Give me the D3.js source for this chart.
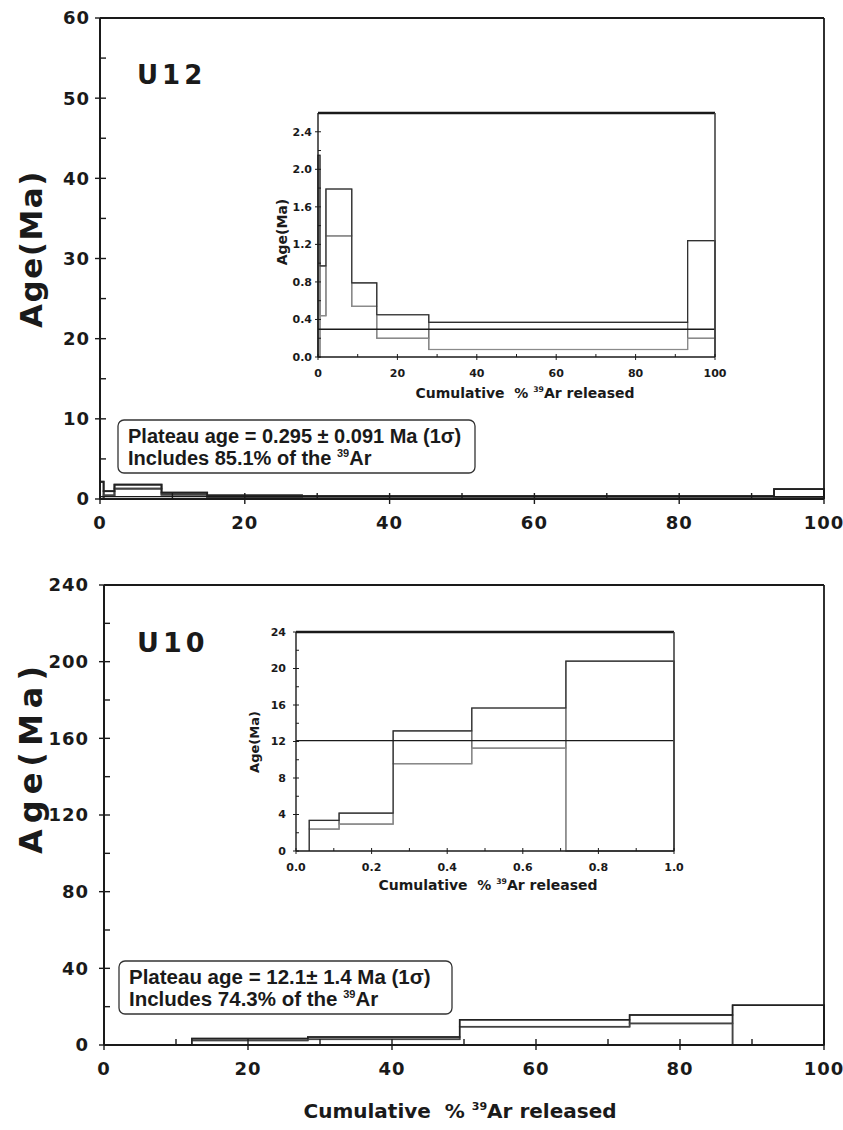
<!DOCTYPE html>
<html>
<head>
<meta charset="utf-8">
<script src="https://cdn.jsdelivr.net/npm/d3@7"></script>
<style>
  body { margin: 0; background: #fff; }
  svg text { font-family: "DejaVu Sans", sans-serif; font-weight: bold; fill: #1a1a1a; }
  svg text.box { font-family: "Liberation Sans", Arial, sans-serif; }
</style>
</head>
<body>
<svg id="fig" width="843" height="1130"></svg>
<script>
// ---- U12 step-heating age spectrum (cumulative % 39Ar, age in Ma) ----
const u12Cum   = [0, 0.5, 2.0, 8.5, 14.8, 27.9, 93.1, 100];
const u12High  = [2.15, 0.97, 1.79, 0.79, 0.45, 0.37, 1.24];
const u12Low   = [0.00, 0.44, 1.29, 0.54, 0.20, 0.08, 0.20];
const u12Plateau = 0.295;

// ---- U10 step-heating age spectrum ----
const u10Cum      = [12.2, 28.3, 49.4, 73.0, 87.3, 100];
const u10CumInset = [0.035, 0.114, 0.257, 0.465, 0.714, 1.0];
const u10High  = [3.35, 4.15, 13.16, 15.67, 20.8];
const u10Low   = [2.40, 2.95, 9.56, 11.27, 0];
const u10Plateau = 12.1;

// ---- tick values ----
const mainXTicks   = [0, 20, 40, 60, 80, 100];
const mainXMinor   = [10, 30, 50, 70, 90];
const u12YTicks    = [0, 10, 20, 30, 40, 50, 60];
const u12YMinor    = [5, 15, 25, 35, 45, 55];
const u10YTicks    = [0, 40, 80, 120, 160, 200, 240];
const u10YMinor    = [20, 60, 100, 140, 180, 220];
const u12InsetYTicks = [0, 0.4, 0.8, 1.2, 1.6, 2.0, 2.4];
const u12InsetYMinor = [0.2, 0.6, 1.0, 1.4, 1.8, 2.2];
const u10InsetYTicks = [0, 4, 8, 12, 16, 20, 24];
const u10InsetYMinor = [2, 6, 10, 14, 18, 22];
const u10InsetXTicks = [0, 0.2, 0.4, 0.6, 0.8, 1.0];
const u10InsetXMinor = [0.1, 0.3, 0.5, 0.7, 0.9];

const svg = d3.select("#fig");

function supText(sel, parts) {
  parts.forEach(p => {
    const t = sel.append("tspan").text(p.t);
    if (p.size) t.attr("font-size", p.size);
    if (p.weight) t.attr("font-weight", p.weight);
    if (p.dy) t.attr("dy", p.dy);
    if (p.x != null) t.attr("x", p.x);
  });
}

function titleX(g, x, y, size, spacing) {
  const t = g.append("text").attr("x", x).attr("y", y).attr("text-anchor", "middle")
    .attr("font-size", size).attr("letter-spacing", spacing);
  supText(t, [
    {t: "Cumulative\u00a0\u00a0%\u00a0"},
    {t: "39", size: size * 0.55, dy: -size * 0.4},
    {t: "Ar released", dy: size * 0.4}
  ]);
}

function drawPanel(o) {
  const g = svg.append("g");
  const x = d3.scaleLinear().domain(o.xDomain).range([o.left, o.right]);
  const y = d3.scaleLinear().domain(o.yDomain).range([o.bottom, o.top]);

  if (o.inset) {
    g.append("rect").attr("x", o.left).attr("y", o.top)
      .attr("width", o.right - o.left).attr("height", o.bottom - o.top).attr("fill", "#fff");
  }

  // spectrum steps: a box per heating step plus the upper and lower envelopes
  const steps = o.high.map((h, i) => ({x0: o.cum[i], x1: o.cum[i + 1], hi: h, lo: o.low[i]}));
  const sw = o.stepWidth;
  g.selectAll("rect.step").data(steps).join("rect").attr("class", "step")
    .attr("x", d => x(d.x0)).attr("width", d => x(d.x1) - x(d.x0))
    .attr("y", d => y(d.hi)).attr("height", d => y(d.lo) - y(d.hi))
    .attr("fill", "none").attr("stroke", o.inset ? "#707070" : "#333").attr("stroke-width", sw);

  const line = d3.line().x(d => x(d[0])).y(d => y(d[1]));
  const envelope = key => [[o.cum[0], 0]]
    .concat(steps.flatMap(d => [[d.x0, d[key]], [d.x1, d[key]]]))
    .concat([[o.cum[o.cum.length - 1], 0]]);
  g.append("path").attr("d", line(envelope("lo"))).attr("fill", "none")
    .attr("stroke", o.inset ? "#8a8a8a" : "#444").attr("stroke-width", sw);
  g.append("path").attr("d", line(envelope("hi"))).attr("fill", "none")
    .attr("stroke", o.inset ? "#303030" : "#222").attr("stroke-width", sw);

  if (o.plateau != null) {
    g.append("line").attr("x1", o.left).attr("x2", o.right)
      .attr("y1", y(o.plateau)).attr("y2", y(o.plateau))
      .attr("stroke", "#1a1a1a").attr("stroke-width", 1.4);
  }

  // frame
  const fw = o.inset ? 1.4 : 2;
  g.append("line").attr("x1", o.left).attr("x2", o.right).attr("y1", o.top).attr("y2", o.top)
    .attr("stroke", "#1a1a1a").attr("stroke-width", o.inset ? 2.4 : 1.8);
  g.append("line").attr("x1", o.right).attr("x2", o.right).attr("y1", o.top).attr("y2", o.bottom)
    .attr("stroke", o.inset ? "#444" : "#1a1a1a").attr("stroke-width", o.inset ? 1.6 : 1.8);
  g.append("line").attr("x1", o.left).attr("x2", o.left).attr("y1", o.top).attr("y2", o.bottom)
    .attr("stroke", "#1a1a1a").attr("stroke-width", fw);
  g.append("line").attr("x1", o.left).attr("x2", o.right).attr("y1", o.bottom).attr("y2", o.bottom)
    .attr("stroke", "#1a1a1a").attr("stroke-width", fw);

  // ticks: majors cross the axis, minors point inward
  const tOut = o.inset ? 3 : 5, tIn = o.inset ? 3 : 6, tw = o.inset ? 1 : 1.4;
  g.selectAll("line.yt").data(o.yTicks).join("line").attr("class", "yt")
    .attr("x1", o.left - tOut).attr("x2", o.left + tIn).attr("y1", d => y(d)).attr("y2", d => y(d))
    .attr("stroke", "#1a1a1a").attr("stroke-width", tw);
  g.selectAll("line.ym").data(o.yMinor).join("line").attr("class", "ym")
    .attr("x1", o.left).attr("x2", o.left + tIn).attr("y1", d => y(d)).attr("y2", d => y(d))
    .attr("stroke", "#1a1a1a").attr("stroke-width", tw);
  g.selectAll("line.xt").data(o.xTicks).join("line").attr("class", "xt")
    .attr("y1", o.bottom + tOut).attr("y2", o.bottom - tIn).attr("x1", d => x(d)).attr("x2", d => x(d))
    .attr("stroke", "#1a1a1a").attr("stroke-width", tw);
  g.selectAll("line.xm").data(o.xMinor).join("line").attr("class", "xm")
    .attr("y1", o.bottom).attr("y2", o.bottom - tIn).attr("x1", d => x(d)).attr("x2", d => x(d))
    .attr("stroke", "#1a1a1a").attr("stroke-width", tw);

  // tick labels
  g.selectAll("text.yl").data(o.yTicks).join("text").attr("class", "yl")
    .attr("x", o.left - o.yLabelGap).attr("y", d => y(d)).attr("dy", "0.36em")
    .attr("text-anchor", "end").attr("font-size", o.tickSize).attr("letter-spacing", o.tickSpacing || 0)
    .text(o.yFormat);
  g.selectAll("text.xl").data(o.xTicks).join("text").attr("class", "xl")
    .attr("x", d => x(d)).attr("y", o.bottom + o.xLabelGap)
    .attr("text-anchor", "middle").attr("font-size", o.tickSize).attr("letter-spacing", o.tickSpacing || 0)
    .text(o.xFormat);

  // axis titles
  if (o.yTitle) {
    g.append("text").attr("transform", `translate(${o.yTitle.x},${o.yTitle.y}) rotate(-90)`)
      .attr("text-anchor", "middle").attr("font-size", o.yTitle.size)
      .attr("letter-spacing", o.yTitle.spacing || 0).text("Age(Ma)");
  }
  if (o.xTitle) titleX(g, o.xTitle.x, o.xTitle.y, o.xTitle.size, o.xTitle.spacing);
  return {x, y};
}

// rounded plateau box with the plateau age and the 39Ar fraction
function plateauBox(x0, y0, w, h, size, line1, line2) {
  const g = svg.append("g");
  g.append("rect").attr("x", x0).attr("y", y0).attr("width", w).attr("height", h)
    .attr("rx", 6).attr("ry", 6).attr("fill", "#fff").attr("stroke", "#333").attr("stroke-width", 1.3);
  const t = g.append("text").attr("class", "box").attr("x", x0 + 10).attr("y", y0 + 22.5)
    .attr("font-size", size);
  t.append("tspan").text(line1);
  supText(t, [{...line2[0], x: x0 + 10, dy: size * 1.12}].concat(line2.slice(1)));
}

const numFmt = d => d3.format("d")(d);
const oneDec = d => d3.format(".1f")(d);

// ---------- U12 main ----------
drawPanel({
  left: 100, right: 824, top: 18, bottom: 499,
  xDomain: [0, 100], yDomain: [0, 60],
  cum: u12Cum, high: u12High, low: u12Low, plateau: u12Plateau, stepWidth: 1.8,
  xTicks: mainXTicks, xMinor: mainXMinor, yTicks: u12YTicks, yMinor: u12YMinor,
  tickSize: 18, tickSpacing: 1, yLabelGap: 10, xLabelGap: 30,
  yFormat: numFmt, xFormat: numFmt,
  yTitle: {x: 42, y: 249, size: 31, spacing: 1.5}
});
svg.append("text").attr("x", 137).attr("y", 84).attr("font-size", 26)
  .attr("letter-spacing", 4).text("U12");
plateauBox(118, 420, 357, 53, 20,
  "Plateau age = 0.295 \u00b1 0.091 Ma (1\u03c3)",
  [{t: "Includes 85.1% of the "}, {t: "39", size: 11, dy: -8}, {t: "Ar", dy: 8}]);

// ---------- U12 inset ----------
drawPanel({
  inset: true,
  left: 318, right: 715, top: 113, bottom: 357,
  xDomain: [0, 100], yDomain: [0, 2.6],
  cum: u12Cum, high: u12High, low: u12Low, plateau: u12Plateau, stepWidth: 1.2,
  xTicks: mainXTicks, xMinor: mainXMinor, yTicks: u12InsetYTicks, yMinor: u12InsetYMinor,
  tickSize: 11, yLabelGap: 6, xLabelGap: 20,
  yFormat: oneDec, xFormat: numFmt,
  yTitle: {x: 287, y: 232, size: 14},
  xTitle: {x: 525, y: 398, size: 14, spacing: 0}
});

// ---------- U10 main ----------
drawPanel({
  left: 104, right: 824, top: 585, bottom: 1045,
  xDomain: [0, 100], yDomain: [0, 240],
  cum: u10Cum, high: u10High, low: u10Low, plateau: null, stepWidth: 1.5,
  xTicks: mainXTicks, xMinor: mainXMinor, yTicks: u10YTicks, yMinor: u10YMinor,
  tickSize: 18, tickSpacing: 1, yLabelGap: 15, xLabelGap: 30,
  yFormat: numFmt, xFormat: numFmt,
  yTitle: {x: 42, y: 757, size: 32, spacing: 6},
  xTitle: {x: 460, y: 1118, size: 20, spacing: 0}
});
svg.append("text").attr("x", 137).attr("y", 652).attr("font-size", 27)
  .attr("letter-spacing", 4).text("U10");
plateauBox(119, 961, 333, 53, 20.5,
  "Plateau age = 12.1\u00b1 1.4 Ma (1\u03c3)",
  [{t: "Includes 74.3% of the "}, {t: "39", size: 11, dy: -8}, {t: "Ar", dy: 8}]);

// ---------- U10 inset ----------
drawPanel({
  inset: true,
  left: 296, right: 674, top: 632, bottom: 851,
  xDomain: [0, 1], yDomain: [0, 24],
  cum: u10CumInset, high: u10High, low: u10Low, plateau: u10Plateau, stepWidth: 1.2,
  xTicks: u10InsetXTicks, xMinor: u10InsetXMinor, yTicks: u10InsetYTicks, yMinor: u10InsetYMinor,
  tickSize: 11, yLabelGap: 10, xLabelGap: 20,
  yFormat: numFmt, xFormat: oneDec,
  yTitle: {x: 259, y: 742, size: 13},
  xTitle: {x: 488, y: 890, size: 14, spacing: 0}
});
</script>
</body>
</html>
